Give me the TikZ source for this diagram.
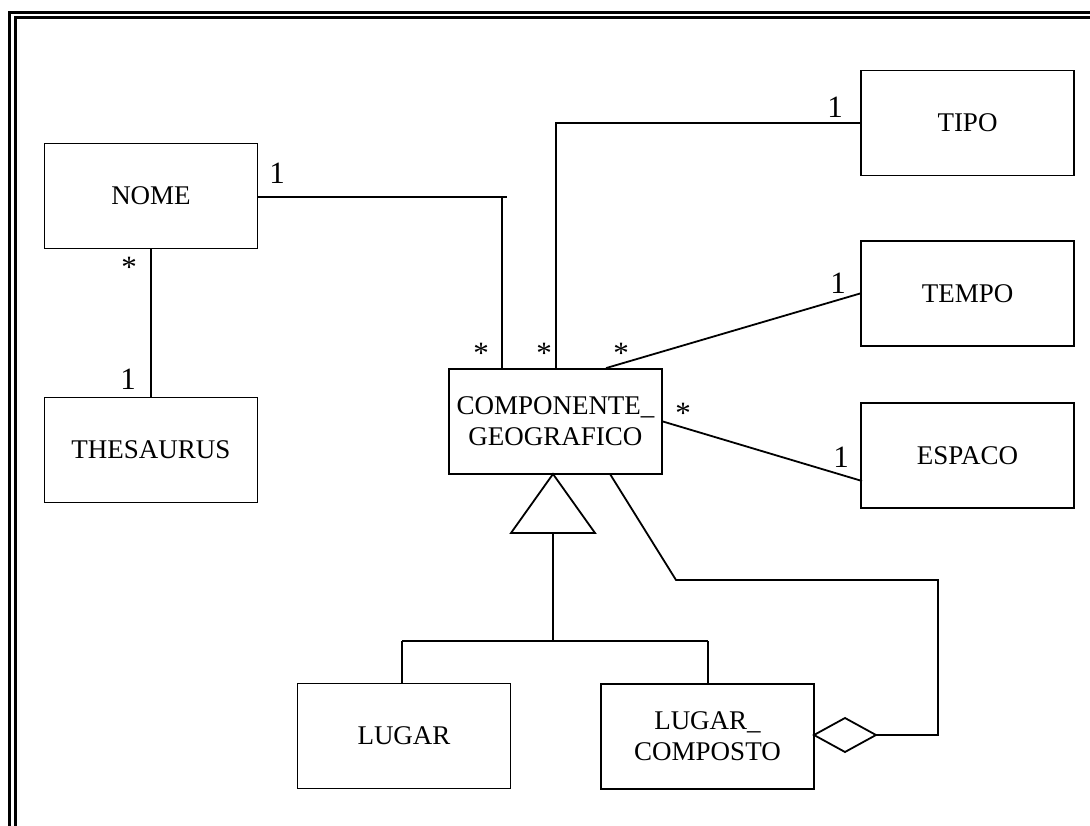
\documentclass[tikz,border=0pt]{standalone}
\usepackage{fontspec}
\setmainfont{Liberation Serif}
\begin{document}
\begin{tikzpicture}[x=1pt,y=-1pt,
  cls/.style={draw, line width=1.8pt, minimum width=213pt, minimum height=105pt,
    font=\fontsize{27}{31}\selectfont, align=center, inner sep=0pt},
  conn/.style={line width=1.8pt},
  mult/.style={font=\fontsize{31}{33}\selectfont, inner sep=0pt}]
\useasboundingbox (0,0) rectangle (1090,826);

% double frame along the top and left edges
\draw[line width=3pt] (9.5,826) -- (9.5,12.5) -- (1090,12.5);
\draw[line width=2.5pt] (15.5,826) -- (15.5,17.5) -- (1090,17.5);

% classes
\node[cls] (nome)   at (151,196)     {NOME};
\node[cls] (thes)   at (151,450)     {THESAURUS};
\node[cls] (comp)   at (555.5,421.5) {COMPONENTE\_\\GEOGRAFICO};
\node[cls] (tipo)   at (967.5,123)   {TIPO};
\node[cls] (tempo)  at (967.5,293.5) {TEMPO};
\node[cls] (espaco) at (967.5,455.5) {ESPACO};
\node[cls] (lugar)  at (404,736)     {LUGAR};
\node[cls] (lcomp)  at (707.5,736.5) {LUGAR\_\\COMPOSTO};

% bend points
\coordinate (nj)  at (502,197);
\coordinate (nje) at (507,197);
\coordinate (tj)  at (556,123);
\coordinate (tm)  at (606,0);
\coordinate (ew)  at (862,481);
\coordinate (apex) at (553,474);
\coordinate (tbl) at (511,533);
\coordinate (tbr) at (595,533);
\coordinate (tbm) at (553,533);
\coordinate (hm)  at (553,641);
\coordinate (hl)  at (402,641);
\coordinate (hr)  at (708,641);
\coordinate (dl)  at (814,735);
\coordinate (dt)  at (845,718);
\coordinate (dr)  at (876,735);
\coordinate (db)  at (845,752);
\coordinate (a1)  at (938,735);
\coordinate (a2)  at (938,580);
\coordinate (a3)  at (676,580);
\coordinate (a4)  at (610,474);

% associations
\draw[conn] (nome) -- (thes);
\draw[conn] (nome.east |- nj) -- (nje);
\draw[conn] (nj) -- (nj |- comp.north);
\draw[conn] (tj |- comp.north) -- (tj) -- (tipo.west |- tj);
\draw[conn] (comp.north -| tm) -- (tempo.west);
\draw[conn] (comp.east) -- (ew);

% generalization
\draw[conn] (apex) -- (tbl) -- (tbr) -- cycle;
\draw[conn] (tbm) -- (hm);
\draw[conn] (hl) -- (hr);
\draw[conn] (hl) -- (hl |- lugar.north);
\draw[conn] (hr) -- (hr |- lcomp.north);

% aggregation
\draw[conn] (dl) -- (dt) -- (dr) -- (db) -- cycle;
\draw[conn] (dr) -- (a1) -- (a2) -- (a3) -- (a4);

% multiplicities
\node[mult] (m1) at (277,173) {1};
\node[mult] (m2) at (129,267) {*};
\node[mult] (m3) at (128,379) {1};
\node[mult] (m4) at (481,353) {*};
\node[mult] (m5) at (544,353) {*};
\node[mult] (m6) at (621,353) {*};
\node[mult] (m7) at (835,107) {1};
\node[mult] (m8) at (838,283) {1};
\node[mult] (m9) at (683,413) {*};
\node[mult] (m10) at (841,457) {1};
\end{tikzpicture}
\end{document}
